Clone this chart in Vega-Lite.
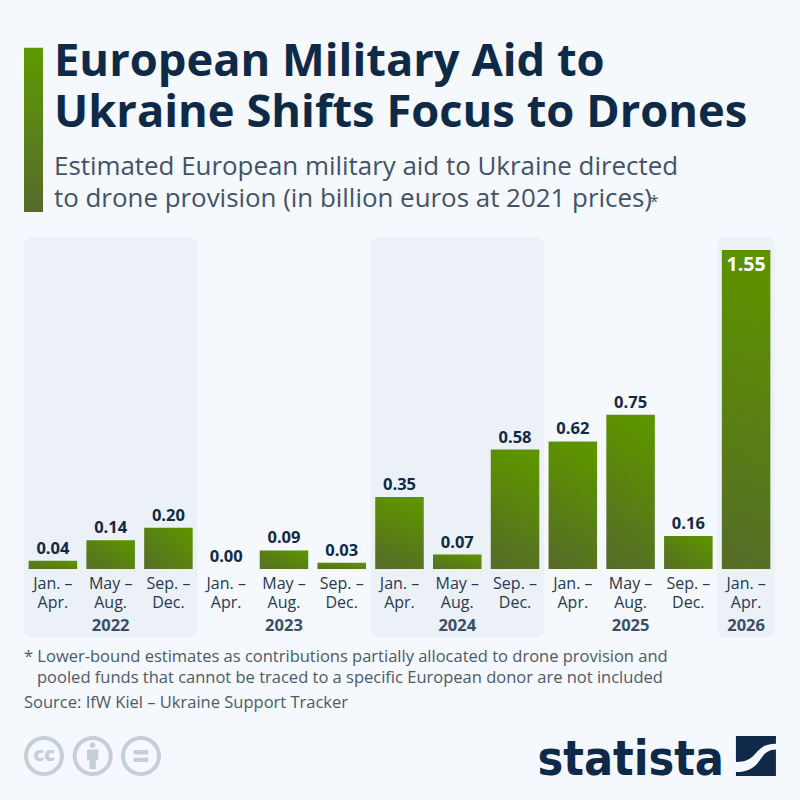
{
  "$schema": "https://vega.github.io/schema/vega-lite/v6.json",
  "autosize": "none",
  "width": 751,
  "height": 332,
  "padding": {"left": 24, "top": 237, "right": 25, "bottom": 231},
  "background": "#f5f8fc",
  "view": {"stroke": null},
  "config": {"font": "Open Sans"},
  "title": {
    "text": ["European Military Aid to", "Ukraine Shifts Focus to Drones"],
    "subtitle": ["Estimated European military aid to Ukraine directed", "to drone provision (in billion euros at 2021 prices)"],
    "anchor": "start",
    "frame": "group",
    "dx": 30,
    "offset": -164,
    "font": "Open Sans",
    "fontSize": 45.3,
    "fontWeight": 700,
    "lineHeight": 51,
    "color": "#0f2a47",
    "subtitleFont": "Open Sans",
    "subtitleFontSize": 25.9,
    "subtitleLineHeight": 32,
    "subtitleColor": "#40536a",
    "subtitlePadding": 19
  },
  "datasets": {
    "periods": [
      {"key": "2022-1", "label": "Jan. –|Apr.", "value": 0.04},
      {"key": "2022-2", "label": "May –|Aug.", "value": 0.14},
      {"key": "2022-3", "label": "Sep. –|Dec.", "value": 0.20},
      {"key": "2023-1", "label": "Jan. –|Apr.", "value": 0.00},
      {"key": "2023-2", "label": "May –|Aug.", "value": 0.09},
      {"key": "2023-3", "label": "Sep. –|Dec.", "value": 0.03},
      {"key": "2024-1", "label": "Jan. –|Apr.", "value": 0.35},
      {"key": "2024-2", "label": "May –|Aug.", "value": 0.07},
      {"key": "2024-3", "label": "Sep. –|Dec.", "value": 0.58},
      {"key": "2025-1", "label": "Jan. –|Apr.", "value": 0.62},
      {"key": "2025-2", "label": "May –|Aug.", "value": 0.75},
      {"key": "2025-3", "label": "Sep. –|Dec.", "value": 0.16},
      {"key": "2026-1", "label": "Jan. –|Apr.", "value": 1.55}
    ],
    "years": [
      {"year": 2022, "start": 0, "end": 3, "mid": 1.5},
      {"year": 2023, "start": 3, "end": 6, "mid": 4.5},
      {"year": 2024, "start": 6, "end": 9, "mid": 7.5},
      {"year": 2025, "start": 9, "end": 12, "mid": 10.5},
      {"year": 2026, "start": 12, "end": 13, "mid": 12.5}
    ]
  },
  "resolve": {"scale": {"x": "independent"}},
  "layer": [
    {
      "layer": [
        {
          "data": {"name": "years"},
          "transform": [{"filter": "datum.year % 2 == 0"}],
          "mark": {"type": "rect", "color": "#ecf0f7", "cornerRadius": 9},
          "encoding": {
            "x": {"field": "start", "type": "quantitative", "scale": {"domain": [0, 13], "nice": false, "zero": false}, "axis": null},
            "x2": {"field": "end"},
            "y": {"datum": 1.613, "type": "quantitative", "scale": {"domain": [0, 1.613], "nice": false}, "axis": null},
            "y2": {"datum": -0.335}
          }
        },
        {
          "data": {"name": "years"},
          "mark": {"type": "text", "font": "Open Sans", "fontSize": 16.5, "fontWeight": 700, "color": "#3a4e68", "align": "center", "baseline": "alphabetic"},
          "encoding": {
            "x": {"field": "mid", "type": "quantitative", "axis": null},
            "y": {"datum": -0.301, "type": "quantitative", "axis": null},
            "text": {"field": "year", "type": "nominal"}
          }
        },
        {
          "data": {"values": [{"part": "accent"}]},
          "mark": {
            "type": "rect",
            "color": {
              "gradient": "linear", "x1": 0, "y1": 0, "x2": 0, "y2": 1,
              "stops": [{"offset": 0, "color": "#5f9a00"}, {"offset": 1, "color": "#556b2f"}]
            }
          },
          "encoding": {
            "x": {"datum": 0, "type": "quantitative", "axis": null},
            "x2": {"datum": 0.329},
            "y": {"datum": 2.532, "type": "quantitative", "axis": null},
            "y2": {"datum": 1.735}
          }
        },
        {
          "data": {"values": [{"note": "*"}]},
          "mark": {"type": "text", "font": "Open Sans", "fontSize": 16, "color": "#40536a", "align": "left", "baseline": "alphabetic"},
          "encoding": {
            "x": {"datum": 10.83, "type": "quantitative", "axis": null},
            "y": {"datum": 1.76, "type": "quantitative", "axis": null},
            "text": {"field": "note"}
          }
        },
        {
          "data": {"values": [{"note": "* Lower-bound estimates as contributions partially allocated to drone provision and"}]},
          "mark": {"type": "text", "font": "Open Sans", "fontSize": 16.5, "color": "#4a5a6b", "align": "left", "baseline": "alphabetic"},
          "encoding": {
            "x": {"datum": 0, "type": "quantitative", "axis": null},
            "y": {"datum": -0.454, "type": "quantitative", "axis": null},
            "text": {"field": "note"}
          }
        },
        {
          "data": {"values": [{"note": "pooled funds that cannot be traced to a specific European donor are not included"}]},
          "mark": {"type": "text", "font": "Open Sans", "fontSize": 16.5, "color": "#4a5a6b", "align": "left", "baseline": "alphabetic"},
          "encoding": {
            "x": {"datum": 0.225, "type": "quantitative", "axis": null},
            "y": {"datum": -0.5515, "type": "quantitative", "axis": null},
            "text": {"field": "note"}
          }
        },
        {
          "data": {"values": [{"note": "Source: IfW Kiel – Ukraine Support Tracker"}]},
          "mark": {"type": "text", "font": "Open Sans", "fontSize": 16.5, "color": "#4a5a6b", "align": "left", "baseline": "alphabetic"},
          "encoding": {
            "x": {"datum": 0, "type": "quantitative", "axis": null},
            "y": {"datum": -0.673, "type": "quantitative", "axis": null},
            "text": {"field": "note"}
          }
        },
        {
          "data": {"values": [{"icon": "cc"}]},
          "mark": {"type": "point", "filled": true, "opacity": 1, "color": "#c6cfd8", "size": 1600, "shape": "M-1 0A1 1 0 1 1 1 0A1 1 0 1 1 -1 0ZM-0.8 0A0.8 0.8 0 1 0 0.8 0A0.8 0.8 0 1 0 -0.8 0Z"},
          "encoding": {
            "x": {"datum": 0.346, "type": "quantitative", "axis": null},
            "y": {"datum": -0.909, "type": "quantitative", "axis": null}
          }
        },
        {
          "data": {"values": [{"icon": "cc"}]},
          "mark": {"type": "text", "font": "Open Sans", "fontSize": 20, "fontWeight": 800, "color": "#c6cfd8", "align": "center", "baseline": "middle", "dy": -1},
          "encoding": {
            "x": {"datum": 0.346, "type": "quantitative", "axis": null},
            "y": {"datum": -0.909, "type": "quantitative", "axis": null},
            "text": {"field": "icon"}
          }
        },
        {
          "data": {"values": [{"icon": "by"}]},
          "mark": {"type": "point", "filled": true, "opacity": 1, "color": "#c6cfd8", "size": 1600, "shape": "M-1 0A1 1 0 1 1 1 0A1 1 0 1 1 -1 0ZM-0.8 0A0.8 0.8 0 1 0 0.8 0A0.8 0.8 0 1 0 -0.8 0ZM-0.14 -0.55A0.14 0.14 0 1 1 0.14 -0.55A0.14 0.14 0 1 1 -0.14 -0.55ZM-0.28 -0.33H0.28V0.2H0.16V0.65H-0.16V0.2H-0.28Z"},
          "encoding": {
            "x": {"datum": 1.189, "type": "quantitative", "axis": null},
            "y": {"datum": -0.909, "type": "quantitative", "axis": null}
          }
        },
        {
          "data": {"values": [{"icon": "nd"}]},
          "mark": {"type": "point", "filled": true, "opacity": 1, "color": "#c6cfd8", "size": 1600, "shape": "M-1 0A1 1 0 1 1 1 0A1 1 0 1 1 -1 0ZM-0.8 0A0.8 0.8 0 1 0 0.8 0A0.8 0.8 0 1 0 -0.8 0ZM-0.37 -0.3H0.37V-0.08H-0.37ZM-0.37 0.08H0.37V0.3H-0.37Z"},
          "encoding": {
            "x": {"datum": 2.025, "type": "quantitative", "axis": null},
            "y": {"datum": -0.909, "type": "quantitative", "axis": null}
          }
        },
        {
          "data": {"values": [{"brand": "statista"}]},
          "mark": {"type": "text", "font": "DejaVu Sans Condensed", "fontSize": 48, "fontWeight": 700, "color": "#10294a", "align": "right", "baseline": "alphabetic"},
          "encoding": {
            "x": {"datum": 12.117, "type": "quantitative", "axis": null},
            "y": {"datum": -1.001, "type": "quantitative", "axis": null},
            "text": {"field": "brand"}
          }
        },
        {
          "data": {"values": [{"brand": "logo"}]},
          "mark": {"type": "point", "filled": true, "opacity": 1, "color": "#10294a", "size": 1600, "shape": "M-1 -1H1V-0.62C0.5 -0.62 0.25 -0.45 0 -0.15C-0.25 0.15 -0.5 0.3 -1 0.3ZM-1 0.8C-0.3 0.8 0 0.5 0.2 0.2C0.4 -0.1 0.6 -0.33 1 -0.33V1H-1Z"},
          "encoding": {
            "x": {"datum": 12.67, "type": "quantitative", "axis": null},
            "y": {"datum": -0.909, "type": "quantitative", "axis": null}
          }
        }
      ]
    },
    {
      "data": {"name": "periods"},
      "encoding": {
        "x": {
          "field": "key",
          "type": "nominal",
          "sort": null,
          "scale": {
            "type": "band",
            "domain": ["2022-1", "2022-2", "2022-3", "2023-1", "2023-2", "2023-3", "2024-1", "2024-2", "2024-3", "2025-1", "2025-2", "2025-3", "2026-1"],
            "paddingInner": 0.16,
            "paddingOuter": 0.08
          },
          "axis": {
            "title": null,
            "domain": false,
            "ticks": false,
            "labelAngle": 0,
            "labelFont": "Open Sans",
            "labelFontSize": 16,
            "labelColor": "#26394f",
            "labelPadding": 6,
            "labelLineHeight": 19.5,
            "labelBaseline": "top",
            "labelOverlap": false,
            "zindex": 1,
            "labelExpr": "split(data('periods')[indexof(pluck(data('periods'), 'key'), datum.value)].label, '|')"
          }
        },
        "y": {"field": "value", "type": "quantitative", "axis": null}
      },
      "layer": [
        {
          "transform": [{"filter": "datum.value < 0.3"}],
          "mark": {
            "type": "bar",
            "color": {
              "gradient": "linear", "x1": 0, "y1": 1, "x2": 1, "y2": 0,
              "stops": [{"offset": 0, "color": "#566d27"}, {"offset": 0.9, "color": "#5c9200"}, {"offset": 1, "color": "#5d9400"}]
            }
          }
        },
        {
          "transform": [{"filter": "datum.value >= 0.3 && datum.value < 1"}],
          "mark": {
            "type": "bar",
            "color": {
              "gradient": "linear", "x1": 0.38, "y1": 1, "x2": 0.62, "y2": 0,
              "stops": [{"offset": 0, "color": "#566d27"}, {"offset": 0.9, "color": "#5c9200"}, {"offset": 1, "color": "#5d9400"}]
            }
          }
        },
        {
          "transform": [{"filter": "datum.value >= 1"}],
          "mark": {
            "type": "bar",
            "color": {
              "gradient": "linear", "x1": 0.47, "y1": 1, "x2": 0.53, "y2": 0,
              "stops": [{"offset": 0, "color": "#566d27"}, {"offset": 0.9, "color": "#5c9000"}, {"offset": 1, "color": "#5d9200"}]
            }
          }
        },
        {
          "transform": [{"filter": "datum.value < 1"}],
          "mark": {"type": "text", "font": "Open Sans", "fontSize": 16.5, "fontWeight": 700, "color": "#0f2a47", "dy": -7, "baseline": "alphabetic"},
          "encoding": {
            "text": {"field": "value", "type": "quantitative", "format": ".2f"}
          }
        },
        {
          "transform": [{"filter": "datum.value >= 1"}],
          "mark": {"type": "text", "font": "Open Sans", "fontSize": 19.5, "fontWeight": 700, "color": "#ffffff", "dy": 21, "baseline": "alphabetic"},
          "encoding": {
            "text": {"field": "value", "type": "quantitative", "format": ".2f"}
          }
        }
      ]
    }
  ]
}
